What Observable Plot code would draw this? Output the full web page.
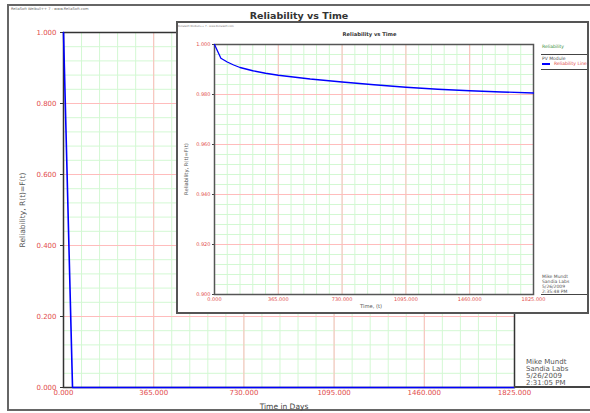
<!DOCTYPE html>
<html><head><meta charset="utf-8">
<script src="https://cdn.jsdelivr.net/npm/d3@7"></script>
<script src="https://cdn.jsdelivr.net/npm/@observablehq/plot@0.6"></script>
<style>
html,body{margin:0;padding:0;background:#fff;overflow:hidden;}
#root{position:relative;width:590px;height:413px;overflow:hidden;font-family:"DejaVu Sans",sans-serif;background:#fff;}
.abs{position:absolute;white-space:nowrap;line-height:1;}
svg{display:block;}
</style></head><body><div id="root"></div>
<script>
// ---- data ----
const xTickValues = [0, 365, 730, 1095, 1460, 1825];
const mainYTickValues = [0, 0.2, 0.4, 0.6, 0.8, 1.0];
const insetYTickValues = [0.90, 0.92, 0.94, 0.96, 0.98, 1.00];
const mainTime = [0, 36.5, 1825];
const mainReliability = [1.0, 0.0, 0.0];
const insetTime = [0, 36.5, 73, 109.5, 146, 219, 292, 365, 547.5, 730, 912.5, 1095, 1277.5, 1460, 1642.5, 1825];
const insetReliability = [1.0, 0.9945, 0.9930, 0.9918, 0.9908, 0.9895, 0.9885, 0.9877, 0.9862, 0.9850, 0.9839, 0.9829, 0.9821, 0.9815, 0.9810, 0.9806];
const titleText = "Reliability vs Time";
const stampText = "ReliaSoft Weibull++ 7 - www.ReliaSoft.com";
const yLabelText = "Reliability, R(t)=F(t)";
const mainXLabel = "Time in Days";
const insetXLabel = "Time, (t)";
const footerMain = ["Mike Mundt", "Sandia Labs", "5/26/2009", "2:31:05 PM"];
const footerInset = ["Mike Mundt", "Sandia Labs", "5/26/2009", "2:35:48 PM"];
const legendTitle = "Reliability";
const legendGroup = "PV Module";
const legendItem = "Reliability Line";

// ---- helpers ----
const fmt = d => d.toFixed(3);
const xMinor = d3.range(0, 1825.5, 73);
const mainYMinor = d3.range(0, 1.0001, 0.04);
const insetYMinor = d3.range(0.9, 1.0001, 0.004);
const mainData = mainTime.map((t, i) => ({t, r: mainReliability[i]}));
const insetData = insetTime.map((t, i) => ({t, r: insetReliability[i]}));

const RED = "#e24c4c", MAJOR = "#ffbcbc", MINOR = "#d3f8d3";

const root = document.getElementById("root");
function label(parent, text, x, y, o = {}) {
  const d = document.createElement("div");
  d.className = "abs";
  d.textContent = text;
  d.style.left = x + "px";
  d.style.top = y + "px";
  d.style.fontSize = (o.size || 7) + "px";
  d.style.color = o.color || "#444";
  if (o.bold) d.style.fontWeight = "bold";
  const ax = o.anchor === "middle" ? "-50%" : o.anchor === "end" ? "-100%" : "0";
  d.style.transform = `translate(${ax},-50%)`;
  if (o.rotate) { d.style.transform = "translate(-50%,-50%) rotate(-90deg)"; }
  parent.appendChild(d);
  return d;
}
function hline(parent, x1, x2, y, color, w) {
  const d = document.createElement("div");
  d.className = "abs";
  d.style.left = x1 + "px"; d.style.top = (y - w / 2) + "px";
  d.style.width = (x2 - x1) + "px"; d.style.height = w + "px";
  d.style.background = color;
  parent.appendChild(d);
}

// ---- main chart ----
const main = Plot.plot({
  width: 590, height: 413,
  marginLeft: 63, marginRight: 76, marginTop: 32, marginBottom: 26,
  style: {fontFamily: '"DejaVu Sans", sans-serif', fontSize: "7px", background: "transparent"},
  x: {domain: [0, 1825]},
  y: {domain: [0, 1]},
  marks: [
    Plot.ruleX(xMinor, {stroke: MINOR, strokeWidth: 1}),
    Plot.ruleY(mainYMinor, {stroke: MINOR, strokeWidth: 1}),
    Plot.ruleX(xTickValues, {stroke: MAJOR, strokeWidth: 1}),
    Plot.ruleY(mainYTickValues, {stroke: MAJOR, strokeWidth: 1}),
    Plot.axisY({ticks: mainYTickValues, tickFormat: fmt, tickSize: 3, tickPadding: 4, fill: RED, stroke: "#333", label: null}),
    Plot.axisX({ticks: xTickValues, tickFormat: fmt, tickSize: 0, tickPadding: 3, fill: RED, label: null}),
    Plot.frame({stroke: "#333", strokeWidth: 1.5}),
    Plot.line(mainData, {x: "t", y: "r", stroke: "#0000ff", strokeWidth: 1.6})
  ]
});
main.style.position = "absolute"; main.style.left = "0px"; main.style.top = "0px";
root.appendChild(main);

// outer frame
const outer = document.createElement("div");
outer.className = "abs";
Object.assign(outer.style, {left: "7px", top: "4px", width: "620px", height: "407px", border: "2px solid #666", boxSizing: "border-box"});
root.appendChild(outer);

label(root, stampText, 11, 9.5, {size: 3.6, color: "#666"});
label(root, titleText, 299, 16, {size: 9.5, bold: true, anchor: "middle", color: "#333"});
label(root, yLabelText, 23, 210, {size: 7.5, rotate: true, color: "#555"});
label(root, mainXLabel, 284, 407, {size: 7.5, anchor: "middle", color: "#444"});
footerMain.forEach((s, i) => label(root, s, 526, 362.3 + i * 7, {size: 7, color: "#555"}));
hline(root, 514, 590, 386.8, "#444", 1.5);

// ---- inset chart ----
const inset = document.createElement("div");
inset.className = "abs";
Object.assign(inset.style, {left: "176px", top: "21px", width: "413px", height: "293px", border: "2px solid #555", boxSizing: "border-box", background: "#fff", overflow: "hidden"});
root.appendChild(inset);

const ip = Plot.plot({
  width: 409, height: 289,
  marginLeft: 36, marginRight: 54, marginTop: 21, marginBottom: 18,
  style: {fontFamily: '"DejaVu Sans", sans-serif', fontSize: "5px", background: "transparent"},
  x: {domain: [0, 1825]},
  y: {domain: [0.9, 1.0]},
  marks: [
    Plot.ruleX(xMinor, {stroke: MINOR, strokeWidth: 1}),
    Plot.ruleY(insetYMinor, {stroke: MINOR, strokeWidth: 1}),
    Plot.ruleX(xTickValues, {stroke: MAJOR, strokeWidth: 1}),
    Plot.ruleY(insetYTickValues, {stroke: MAJOR, strokeWidth: 1}),
    Plot.axisY({ticks: insetYTickValues, tickFormat: fmt, tickSize: 2, tickPadding: 2, fill: RED, stroke: "#444", label: null}),
    Plot.axisX({ticks: xTickValues, tickFormat: fmt, tickSize: 0, tickPadding: 2.5, fill: RED, label: null}),
    Plot.frame({stroke: "#555", strokeWidth: 1.5}),
    Plot.line(insetData, {x: "t", y: "r", stroke: "#0000ff", strokeWidth: 1.3})
  ]
});
ip.style.position = "absolute"; ip.style.left = "0px"; ip.style.top = "0px";
inset.appendChild(ip);

// inset texts (coords relative to inset content box at 178,23)
const ox = 178, oy = 23;
label(inset, stampText, 178 - ox, 27 - oy, {size: 2.6, color: "#777"});
label(inset, titleText, 369.5 - ox, 35 - oy, {size: 5.2, bold: true, anchor: "middle", color: "#333"});
label(inset, yLabelText, 187 - ox, 169 - oy, {size: 5.2, rotate: true, color: "#555"});
label(inset, insetXLabel, 371 - ox, 307 - oy, {size: 5.2, anchor: "middle", color: "#555"});
label(inset, legendTitle, 542 - ox, 47 - oy, {size: 4.5, color: "#3d8f3d"});
hline(inset, 541 - ox, 587 - ox, 54 - oy, "#444", 1);
label(inset, legendGroup, 542 - ox, 59 - oy, {size: 4.5, color: "#555"});
hline(inset, 542 - ox, 550 - ox, 64 - oy, "#0000ff", 1.2);
label(inset, legendItem, 554 - ox, 64 - oy, {size: 4.5, color: RED});
hline(inset, 541 - ox, 587 - ox, 69.3 - oy, "#444", 1);
footerInset.forEach((s, i) => label(inset, s, 542 - ox, 276.7 + i * 5.1 - oy, {size: 4.5, color: "#555"}));
hline(inset, 541 - ox, 587 - ox, 294.3 - oy, "#444", 1.2);
</script>
</body></html>
